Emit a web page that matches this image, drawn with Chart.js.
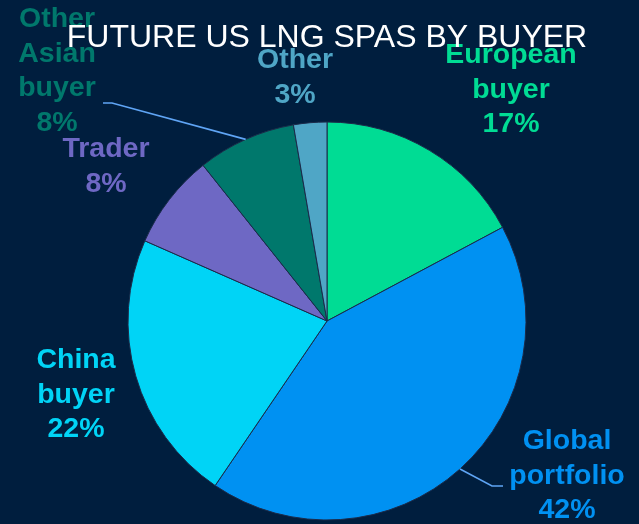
<!DOCTYPE html>
<html><head><meta charset="utf-8">
<script src="https://cdn.jsdelivr.net/npm/chart.js@4.4.1/dist/chart.umd.min.js"></script>
<style>html,body{margin:0;padding:0;background:#001e3e;overflow:hidden}canvas{display:block}</style>
</head><body>
<canvas id="c" width="639" height="524"></canvas>
<script>
const categories = ["European buyer", "Global portfolio", "China buyer", "Trader", "Other Asian buyer", "Other"];
const shares = [17.2, 42.3, 22.1, 7.7, 8.0, 2.7];
const sliceColors = ["#00dc94", "#0091f2", "#00d4f6", "#6e68c4", "#00786c", "#4fa6c6"];
const titleText = "FUTURE US LNG SPAS BY BUYER";

// annotation layout (label block centre x, first baseline y)
const labelLayout = [
  {x: 511, y: 63}, {x: 567, y: 449}, {x: 76, y: 368},
  {x: 106, y: 157}, {x: 57, y: 27}, {x: 295, y: 68}
];
const leaderElbows = {4: [[112, 103], [103, 103]], 1: [[492, 486], [503, 486]]};

const annotate = {
  id: 'annotate',
  afterDraw(chart) {
    const ctx = chart.ctx;
    const meta = chart.getDatasetMeta(0);
    ctx.save();
    // leader lines
    ctx.strokeStyle = '#5fa5f5';
    ctx.lineWidth = 1.6;
    Object.keys(leaderElbows).forEach(k => {
      const arc = meta.data[k];
      const mid = (arc.startAngle + arc.endAngle) / 2;
      const sx = arc.x + Math.cos(mid) * arc.outerRadius;
      const sy = arc.y + Math.sin(mid) * arc.outerRadius;
      ctx.beginPath();
      ctx.moveTo(sx, sy);
      leaderElbows[k].forEach(p => ctx.lineTo(p[0], p[1]));
      ctx.stroke();
    });
    // labels
    ctx.font = 'bold 28.5px "Liberation Sans", Arial, sans-serif';
    ctx.textAlign = 'center';
    ctx.textBaseline = 'alphabetic';
    categories.forEach((c, i) => {
      const lines = c.split(' ').concat([Math.round(shares[i]) + '%']);
      ctx.fillStyle = sliceColors[i];
      lines.forEach((t, j) => ctx.fillText(t, labelLayout[i].x, labelLayout[i].y + j * 34.5));
    });
    // title
    ctx.font = '32px "Liberation Sans", Arial, sans-serif';
    ctx.fillStyle = '#ffffff';
    ctx.fillText(titleText, 327, 47);
    ctx.restore();
  }
};

new Chart(document.getElementById('c'), {
  type: 'pie',
  data: {
    labels: categories,
    datasets: [{
      data: shares,
      backgroundColor: sliceColors,
      borderColor: '#1b2b4a',
      borderWidth: 1,
      radius: 199
    }]
  },
  options: {
    responsive: false,
    animation: false,
    devicePixelRatio: 1,
    events: [],
    layout: {padding: {left: 128, right: 113, top: 122, bottom: 4}},
    plugins: {legend: {display: false}, tooltip: {enabled: false}, title: {display: false}}
  },
  plugins: [annotate]
});
</script>
</body></html>
